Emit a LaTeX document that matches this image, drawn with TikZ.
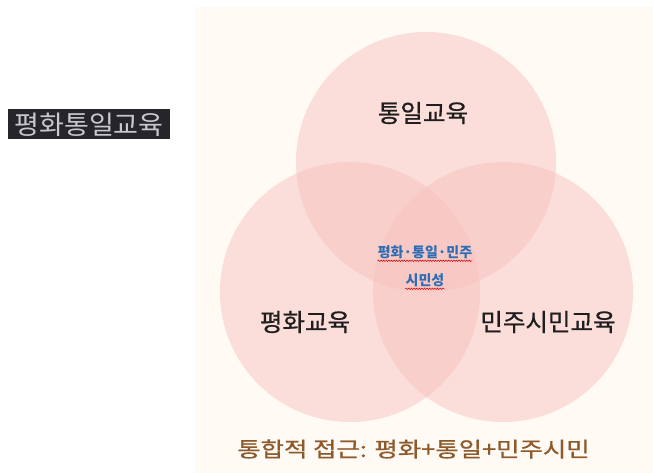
\documentclass[tikz,border=0pt]{standalone}
\usepackage{fontspec}
\setmainfont{Noto Sans CJK KR}
\newfontfamily\krmed{Noto Sans CJK KR}[FakeBold=0.7]
\usetikzlibrary{decorations.pathmorphing}
\definecolor{panel}{HTML}{FFFAF4}
\definecolor{circ}{HTML}{F8C2C0}
\definecolor{labelbg}{HTML}{25252A}
\definecolor{labeltx}{HTML}{C9C9CD}
\definecolor{midblue}{HTML}{2E6DB4}
\definecolor{brown}{HTML}{8E5A2C}
\definecolor{txt}{HTML}{1E1E1E}
\tikzset{
  venn/.style={circle, fill=circ, fill opacity=0.5, minimum size=260pt, inner sep=0pt},
  biglabel/.style={text=txt, font=\krmed\fontsize{24.5}{28}\selectfont, inner sep=0pt},
  midlabel/.style={text=midblue, font=\fontsize{14}{16}\selectfont\bfseries, inner sep=0pt},
  squiggle/.style={red!80!black, line width=0.5pt, decorate, decoration={snake, amplitude=0.7pt, segment length=2.6pt}}
}
\begin{document}
\begin{tikzpicture}[x=1pt,y=-1pt]
\useasboundingbox (0,0) rectangle (653,473);
\fill[white] (0,0) rectangle (653,473);
\fill[panel] (195,7) rectangle (653,473);
\node[venn] (top) at (426,162) {};
\node[venn] (left) at (350,292) {};
\node[venn] (right) at (503,292) {};
\node[biglabel] (ttop) at (423,113) {통일교육};
\node[biglabel] (tleft) at (305,322) {평화교육};
\node[biglabel] (tright) at (548,322) {민주시민교육};
\node[midlabel] (m1) at (425,252) {평화·통일·민주};
\node[midlabel] (m2) at (425,280) {시민성};
\draw[squiggle] ([yshift=-2pt]m1.south west) -- ([yshift=-2pt]m1.south east);
\draw[squiggle] ([yshift=-2pt]m2.south west) -- ([yshift=-2pt]m2.south east);
\node[text=brown, font=\krmed\fontsize{21}{24}\selectfont, inner sep=0pt, xscale=1.21] (bottom) at (413.5,449) {통합적 접근: 평화+통일+민주시민};
\node[fill=labelbg, minimum width=162pt, minimum height=30pt, inner sep=0pt] (side) at (89,124.5) {};
\node[text=labeltx, font=\fontsize{26}{28}\selectfont, inner sep=0pt, xscale=1.04] (sidetext) at (side.center) {평화통일교육};
\end{tikzpicture}
\end{document}
